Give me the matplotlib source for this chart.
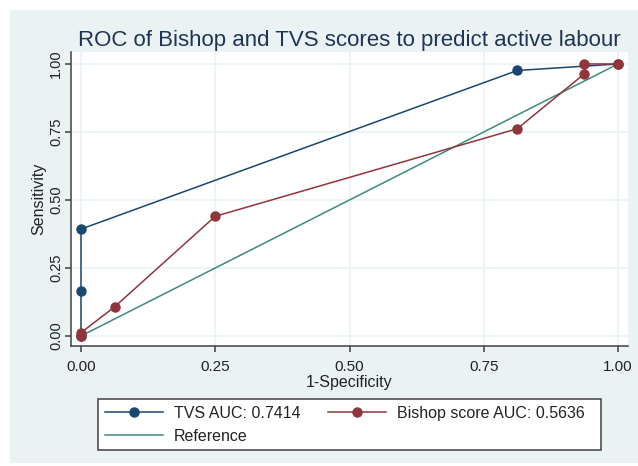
import matplotlib.pyplot as plt
from matplotlib.patches import Rectangle
from matplotlib.lines import Line2D

plt.rcParams['font.family'] = ['Liberation Sans', 'DejaVu Sans']

# ROC points
tvs_fpr = [0.0, 0.0, 0.0, 0.8125, 1.0]
tvs_tpr = [0.0, 0.167, 0.393, 0.976, 1.0]
bishop_fpr = [0.0, 0.0, 0.0625, 0.25, 0.8125, 0.9375, 0.9375, 1.0]
bishop_tpr = [0.0, 0.012, 0.107, 0.44, 0.762, 0.964, 1.0, 1.0]
ref_x = [0.0, 1.0]
ref_y = [0.0, 1.0]
ticks = [0.0, 0.25, 0.5, 0.75, 1.0]
tick_labels = ['0.00', '0.25', '0.50', '0.75', '1.00']
labels = ['TVS AUC: 0.7414', 'Bishop score AUC: 0.5636', 'Reference']

navy = '#1a476f'
maroon = '#90353b'
teal = '#3d8b7b'
bg = '#eaf2f3'

W, H = 638, 466
fig = plt.figure(figsize=(W / 100, H / 100), dpi=100)
fig.patch.set_facecolor('white')
fig.patches.append(Rectangle((10 / W, 3 / H), 1 - 10 / W, (463 - 10) / H,
                             transform=fig.transFigure, facecolor=bg,
                             edgecolor='none', zorder=-10))

ax = fig.add_axes([71 / W, (H - 346) / H, (628 - 71) / W, (346 - 52) / H])
ax.set_facecolor('white')

ax.plot(tvs_fpr, tvs_tpr, color=navy, lw=1.1, marker='o', ms=6.5, zorder=3)
ax.plot(bishop_fpr, bishop_tpr, color=maroon, lw=1.1, marker='o', ms=6.5, zorder=4)
ax.plot(ref_x, ref_y, color=teal, lw=1.1, zorder=2)

ax.set_xlim(-0.0186, 1.0186)
ax.set_ylim(-0.0368, 1.044)
ax.set_xticks(ticks)
ax.set_xticklabels(tick_labels)
ax.set_yticks(ticks)
ax.set_yticklabels(tick_labels, rotation=90, va='center')
ax.grid(True, color=bg, lw=1.2)
ax.set_axisbelow(True)

for s in ['top', 'right']:
    ax.spines[s].set_visible(False)
for s in ['left', 'bottom']:
    ax.spines[s].set_color('#404040')
    ax.spines[s].set_linewidth(1.1)
ax.tick_params(axis='both', length=4.5, width=1.1, color='#404040',
               labelcolor='#222222')
ax.tick_params(axis='x', pad=5.5, labelsize=11)
ax.tick_params(axis='y', pad=1, labelsize=10.5)

ax.set_xlabel('1-Specificity', fontsize=11.5, color='#222222', labelpad=1)
ax.set_ylabel('Sensitivity', fontsize=11.5, color='#222222', labelpad=2)
ax.set_title('ROC of Bishop and TVS scores to predict active labour',
             fontsize=16, color='#1e3555', pad=4)

# legend box
fig.patches.append(Rectangle((98 / W, (H - 450) / H), (601 - 98) / W, (450 - 399) / H,
                             transform=fig.transFigure, facecolor='white',
                             edgecolor='#404040', lw=1.1, zorder=5))
handles = [
    Line2D([], [], color=navy, lw=1.1, marker='o', ms=6.5),
    Line2D([], [], color=teal, lw=1.1),
    Line2D([], [], color=maroon, lw=1.1, marker='o', ms=6.5),
]
leg = fig.legend(handles, [labels[0], labels[2], labels[1]], ncol=2,
                 loc='upper left', bbox_to_anchor=(105 / W, (H - 406) / H),
                 frameon=False, fontsize=11.5, borderpad=0, borderaxespad=0,
                 handlelength=3.6, handletextpad=0.7, columnspacing=1.75,
                 labelspacing=0.5, labelcolor='#222222')
leg.set_zorder(6)

fig.savefig('out.png', dpi=100)
